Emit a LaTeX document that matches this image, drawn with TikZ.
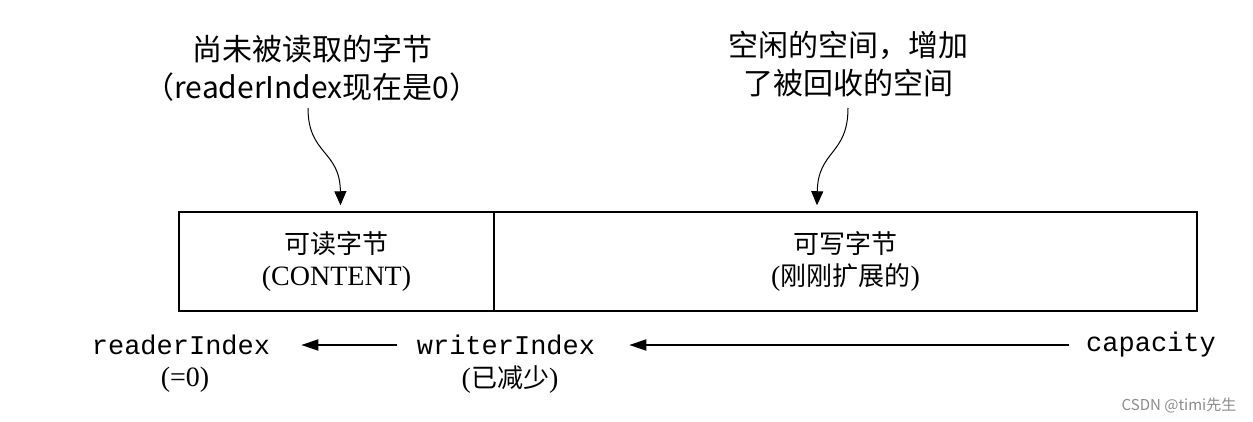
\documentclass[tikz,border=0pt]{standalone}
\usepackage{fontspec}
\setmainfont{Liberation Serif}
\setmonofont{Liberation Mono}
\newfontfamily\cjk{Noto Sans CJK SC}
\newcommand{\zh}[1]{{\cjk\fontsize{26}{32}\selectfont #1}}
\usetikzlibrary{arrows.meta}
\tikzset{
  lbl/.style={font=\cjk\fontsize{30}{38}\selectfont, align=center, inner sep=0pt},
  cell/.style={draw, line width=1.5pt, inner sep=0pt, align=center, font=\fontsize{28}{32}\selectfont},
  idx/.style={font=\ttfamily\fontsize{27}{34}\selectfont, inner sep=0pt},
  sub/.style={font=\fontsize{28}{32}\selectfont, inner sep=0pt},
  curv/.style={line width=1pt, -{Triangle[length=14pt,width=12pt]}},
  ptr/.style={line width=2pt, -{Triangle[length=17pt,width=11pt]}},
}
\begin{document}
\begin{tikzpicture}[x=1pt,y=-1pt]
\useasboundingbox[fill=white] (0,0) rectangle (1253,421);
% top labels
\node[lbl] (tl) at (312,68) {尚未被读取的字节\\（readerIndex现在是0）};
\node[lbl] (tr) at (848,64) {空闲的空间，增加\\了被回收的空间};
% boxes
\node[cell, minimum width=315pt, minimum height=99pt] (b1) at (336.5,261.5) {\zh{可读字节}\\(CONTENT)};
\node[cell, minimum width=703pt, minimum height=99pt] (b2) at (845.5,261.5) {\zh{可写字节}\\(\zh{刚刚扩展的})};
% curved arrows
\coordinate (ta) at (308,108);
\coordinate (tb) at (848,108);
\draw[curv] (ta) .. controls (308,155) and (340,150) .. ([xshift=4pt,yshift=6pt]b1.north);
\draw[curv] (tb) .. controls (848,155) and (818,150) .. ([xshift=-28.5pt,yshift=6pt]b2.north);
% bottom indices
\node[idx] (ri) at (181,345) {readerIndex};
\node[sub] (ri2) at (185,380) {(=0)};
\node[idx] (wi) at (506,345) {writerIndex};
\node[sub] (wi2) at (510,380) {(\zh{已减少})};
\node[idx] (ca) at (1151,345) {capacity};
\draw[ptr] ([xshift=-20pt]wi.west) -- ([xshift=31pt]ri.east);
\draw[ptr] ([xshift=-17pt]ca.west) -- ([xshift=34pt]wi.east);
% watermark
\node[font=\cjk\fontsize{15}{18}\selectfont, text=black!45, inner sep=0pt] (wm) at (1179,405) {CSDN @timi先生};
\end{tikzpicture}
\end{document}
